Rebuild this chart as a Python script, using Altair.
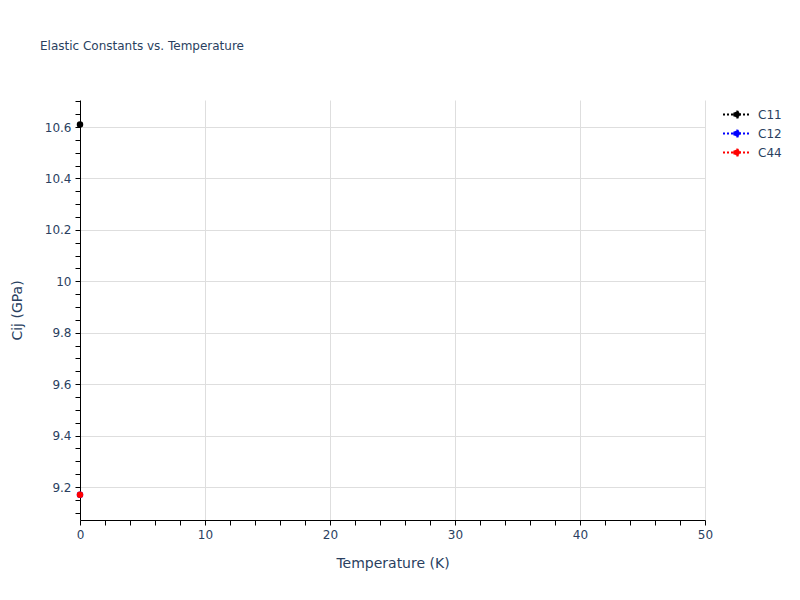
import altair as alt
import pandas as pd

# ---- data ----
series = ["C11", "C12", "C44"]
temperature = [0, 0, 0]
cij = [10.61, 9.17, 9.17]
colors = ["black", "blue", "red"]

x_domain = [0, 50]
y_domain = [9.072, 10.705]
x_ticks = list(range(0, 51, 2))
y_ticks = [round(9.1 + 0.05 * i, 2) for i in range(33)]

df = pd.DataFrame({"series": series, "T": temperature, "Cij": cij})

FONT = "DejaVu Sans"
TXT = "#2a3f5f"
GRID = "#dedede"

x_axis = alt.Axis(
    values=x_ticks,
    labelExpr="datum.value % 10 == 0 ? datum.label : ''",
    labelOverlap=False,
    labelFlush=False,
    grid=True,
    gridColor=GRID,
    gridOpacity={"condition": {"test": "datum.value % 10 == 0 && datum.value > 0", "value": 1}, "value": 0},
    domainColor="black",
    tickColor="black",
    tickSize=5,
    labelPadding=4,
    labelFont=FONT,
    labelFontSize=12,
    labelColor=TXT,
    title="Temperature (K)",
    titleFont=FONT,
    titleFontSize=14,
    titleFontWeight="normal",
    titleColor=TXT,
    titleX=312.5,
    titleY=43,
    titleBaseline="middle",
    titleAlign="center",
)

y_axis = alt.Axis(
    values=y_ticks,
    labelExpr="abs(datum.value*5 - round(datum.value*5)) < 0.001 ? format(datum.value, '.1~f') : ''",
    labelOverlap=False,
    labelFlush=False,
    grid=True,
    gridColor=GRID,
    gridOpacity={"condition": {"test": "abs(datum.value*5 - round(datum.value*5)) < 0.001", "value": 1}, "value": 0},
    domainColor="black",
    tickColor="black",
    tickSize=5,
    labelPadding=4,
    labelFont=FONT,
    labelFontSize=12,
    labelColor=TXT,
    title="Cij (GPa)",
    titleFont=FONT,
    titleFontSize=14,
    titleFontWeight="normal",
    titleColor=TXT,
    titleX=-63,
    titleY=210,
    titleAngle=270,
    titleBaseline="middle",
    titleAlign="center",
)

legend_path = "M-2,0L2,0M-0.42,0A0.42,0.42,0,1,1,0.42,0A0.42,0.42,0,1,1,-0.42,0Z"
legend = alt.Legend(
    title=None,
    orient="none",
    legendX=649,
    legendY=6.5,
    padding=0,
    symbolType=legend_path,
    symbolSize=196,
    symbolStrokeWidth=2,
    symbolDash=[2, 2],
    labelFont=FONT,
    labelFontSize=12,
    labelColor=TXT,
    labelOffset=13,
    rowPadding=4,
)

scale = alt.Scale(domain=series, range=colors)
x_enc = alt.X("T:Q", scale=alt.Scale(domain=x_domain, nice=False, zero=False), axis=x_axis)
y_enc = alt.Y("Cij:Q", scale=alt.Scale(domain=y_domain, nice=False, zero=False), axis=y_axis)

lines = alt.Chart(df).mark_line(strokeDash=[2, 2], strokeWidth=2).encode(
    x=x_enc,
    y=y_enc,
    stroke=alt.Stroke("series:N", scale=scale, legend=legend),
    detail="series:N",
)

points = alt.Chart(df).mark_point(filled=True, size=20, opacity=1).encode(
    x=x_enc,
    y=y_enc,
    fill=alt.Fill("series:N", scale=scale, legend=legend),
    stroke=alt.Stroke("series:N", scale=scale, legend=legend),
    order=alt.Order("series:N"),
)

chart = (
    alt.layer(lines, points)
    .properties(
        width=625,
        height=420,
        autosize=alt.AutoSizeParams(type="none"),
        padding={"left": 72, "top": 92, "right": 87, "bottom": 72},
        title=alt.Title(
            "Elastic Constants vs. Temperature",
            anchor="start",
            frame="group",
            dx=-40,
            offset=33,
            baseline="alphabetic",
            font=FONT,
            fontSize=12,
            fontWeight="normal",
            color=TXT,
        ),
        background="white",
    )
    .configure_view(stroke=None)
)

chart.save("out.html", embed_options={"renderer": "svg", "actions": False})
